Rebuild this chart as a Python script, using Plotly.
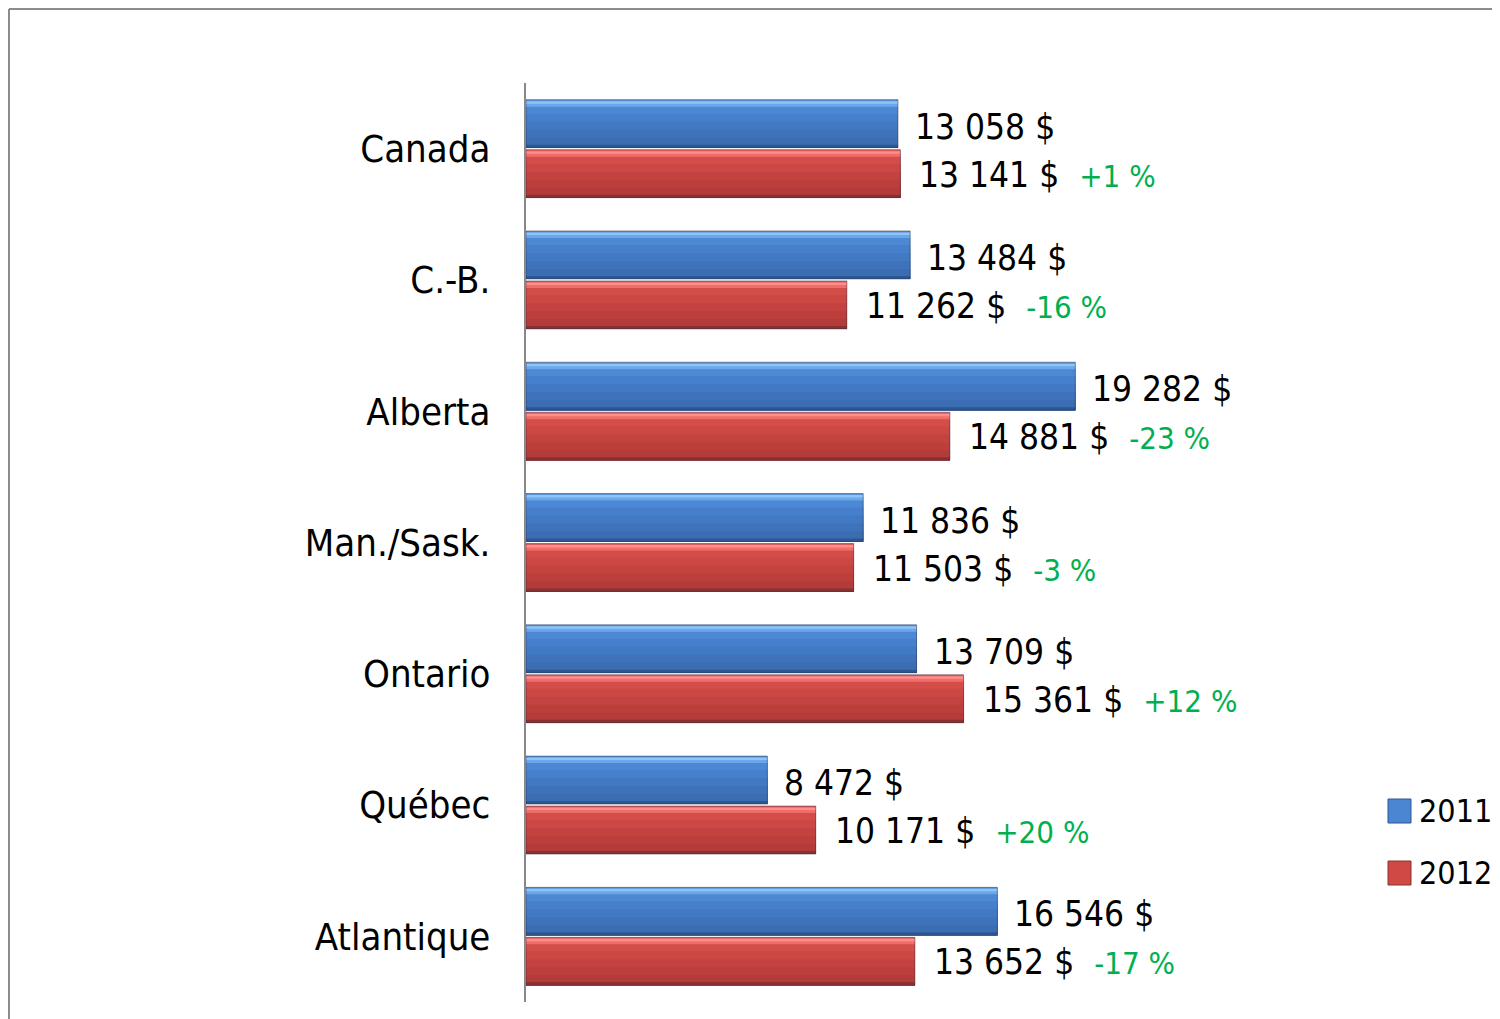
import plotly.graph_objects as go

# ---- data ----
categories = ["Canada", "C.-B.", "Alberta", "Man./Sask.", "Ontario", "Québec", "Atlantique"]
values_2011 = [13058, 13484, 19282, 11836, 13709, 8472, 16546]
values_2012 = [13141, 11262, 14881, 11503, 15361, 10171, 13652]
change_labels = ["+1 %", "-16 %", "-23 %", "-3 %", "+12 %", "+20 %", "-17 %"]
series_names = ["2011", "2012"]

# ---- layout constants (page pixels; the page body has an 8px margin) ----
OFF = 8
W, H = 1500 - OFF, 1019 - OFF
PL, PR, PT, PB = 526, 1381, 83, 1002          # plot area in page pixels
L, T = PL - OFF, PT - OFF
R, B = W - (PR - OFF), H - (PB - OFF)
PW, PH = PR - PL, PB - PT
PITCH = PH / len(categories)
BAR_PX = 48
FONT = "DejaVu Sans Condensed, Liberation Sans Narrow, Arial Narrow, sans-serif"

def px(v):
    return v / PITCH

def paper_x(page_x):
    return (page_x - PL) / PW

def paper_y(page_y):
    return (PB - page_y) / PH

# bevel bands: (start px from top of bar, colour); each band runs to the bar bottom
blue_bands = [(0, "#5a8fd2"), (1.5, "#8cc6f8"), (4, "#6ba7ea"), (7, "#4c88d4"),
              (14, "#4680cc"), (22, "#4279c3"), (30, "#3e73bb"), (38, "#3b6db3"),
              (45, "#2d5792")]
red_bands = [(0, "#dc5a58"), (1.5, "#ff8e8c"), (4, "#f06e6a"), (7, "#d44e49"),
             (14, "#cc4844"), (22, "#c44340"), (30, "#bc3f3c"), (38, "#b33b39"),
             (45, "#873232")]

fig = go.Figure()
gap = 1.0
for vals, bands, top_px in [(values_2011, blue_bands, -BAR_PX - gap), (values_2012, red_bands, gap)]:
    for s, c in bands:
        fig.add_trace(go.Bar(
            y=categories, x=vals, orientation="h",
            offset=px(top_px + s), width=px(BAR_PX - s),
            marker=dict(color=c, line=dict(width=0)),
            showlegend=False, hoverinfo="skip"))
    fig.add_trace(go.Bar(
        y=categories, x=vals, orientation="h",
        offset=px(top_px), width=px(BAR_PX),
        marker=dict(color="rgba(0,0,0,0)", line=dict(width=1, color="rgba(40,40,60,0.45)")),
        showlegend=False, hoverinfo="skip"))

VAL_SIZE = 35
annotations = []
for cat, a, b, ch in zip(categories, values_2011, values_2012, change_labels):
    ta = f"{a:,}".replace(",", " ") + " $"
    tb = f"{b:,}".replace(",", " ") + " $"
    annotations.append(dict(x=a, y=cat, xref="x", yref="y", text=ta, showarrow=False,
                            xanchor="left", yanchor="middle", xshift=15, yshift=22,
                            font=dict(family=FONT, size=VAL_SIZE, color="black")))
    annotations.append(dict(x=b, y=cat, xref="x", yref="y",
                            text=tb + "\u00a0\u00a0<span style='color:#00b050;font-size:31px'>" + ch + "</span>",
                            showarrow=False, xanchor="left", yanchor="middle", xshift=17, yshift=-26,
                            font=dict(family=FONT, size=VAL_SIZE, color="black")))

# manual legend
shapes = []
leg_items = [(series_names[0], "#4a86d2", "#2d5792", 811), (series_names[1], "#d04a45", "#873232", 873)]
for name, col, edge, cy in leg_items:
    shapes.append(dict(type="rect", xref="paper", yref="paper",
                       x0=paper_x(1388), x1=paper_x(1411),
                       y0=paper_y(cy + 12), y1=paper_y(cy - 12),
                       fillcolor=col, line=dict(color=edge, width=1)))
    annotations.append(dict(x=paper_x(1417), y=paper_y(cy), xref="paper", yref="paper",
                            text=name, showarrow=False, xanchor="left", yanchor="middle",
                            font=dict(family=FONT, size=32, color="black")))

# outer border (top & left)
shapes.append(dict(type="line", xref="paper", yref="paper",
                   x0=paper_x(9), x1=paper_x(1510), y0=paper_y(9), y1=paper_y(9),
                   line=dict(color="#8c8c8c", width=2)))
shapes.append(dict(type="line", xref="paper", yref="paper",
                   x0=paper_x(9), x1=paper_x(9), y0=paper_y(9), y1=paper_y(1030),
                   line=dict(color="#8c8c8c", width=2)))

fig.update_layout(
    width=W, height=H,
    margin=dict(l=L, r=R, t=T, b=B, pad=0),
    paper_bgcolor="white", plot_bgcolor="white",
    barmode="overlay",
    showlegend=False,
    xaxis=dict(range=[0, PW / (372 / 13058)], visible=False, fixedrange=True),
    yaxis=dict(type="category", categoryorder="array", categoryarray=categories,
               range=[len(categories) - 0.5, -0.5],
               showline=True, linecolor="#888888", linewidth=2,
               showgrid=False, zeroline=False, ticks="", ticklabelstandoff=26,
               tickfont=dict(family=FONT, size=38, color="black")),
    annotations=annotations, shapes=shapes,
)

fig.write_html("out.html")
